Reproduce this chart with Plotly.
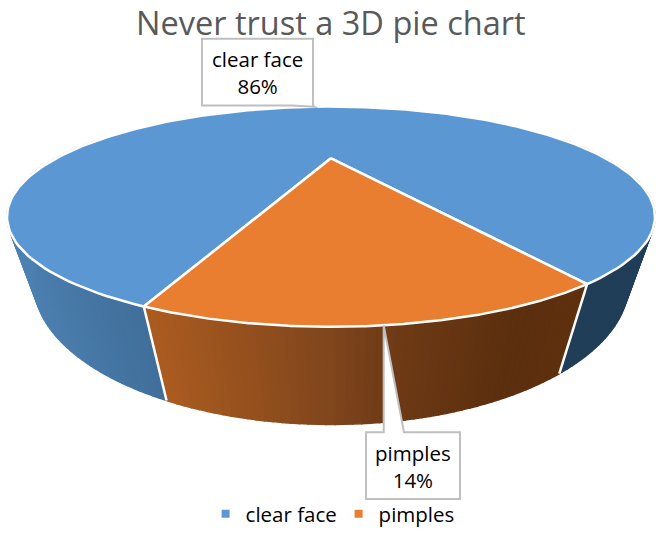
import numpy as np
import plotly.graph_objects as go

labels = ['clear face', 'pimples']
values = [86, 14]
top_colors = ['#5B98D3', '#E97D30']
title_text = 'Never trust a 3D pie chart'

# side shading as (screen x, colour)
side_stops = [
    [(0, (78, 130, 178)), (170, (62, 107, 150)), (540, (33, 62, 88)), (659, (33, 62, 88))],
    [(145, (172, 92, 33)), (330, (128, 70, 28)), (385, (113, 60, 23)), (520, (92, 47, 14)), (590, (95, 49, 15))],
]

# where the tilted disc sits in the page, in pixels
cx, cy, rx, ry = 331, 217.5, 324, 110.5
tilt = 0.53  # pushes the pie centre up the ellipse
vanish = (335, 1100)
start_angle = 110.0


def rim(deg):
    # point of the circle after the perspective tilt
    t = np.radians(deg)
    u, v = np.cos(t), np.sin(t)
    w = 1 - tilt * v
    return cx + rx * u * np.sqrt(1 - tilt ** 2) / w, cy + ry * (v - tilt) / w


def drop(x, y):
    # the wall gets taller towards the viewer
    depth = 0.111 + 0.00039 * (y - 287)
    return x + depth * (vanish[0] - x), y + depth * (vanish[1] - y)


def side_color(i, x):
    xs = [s[0] for s in side_stops[i]]
    rgb = [np.interp(x, xs, [s[1][c] for s in side_stops[i]]) for c in range(3)]
    return 'rgb(%d,%d,%d)' % tuple(rgb)


# slice limits come from the values
total = sum(values)
spans = []
a = start_angle
for val in values:
    spans.append((a, a + val / total * 360))
    a = spans[-1][1]

data = []

# side wall, thin strips so the shading looks like a gradient
for i, (a0, a1) in enumerate(spans):
    steps = np.arange(a0, a1 + 1, 1.0)
    steps[-1] = a1
    for s0, s1 in zip(steps[:-1], steps[1:]):
        if np.sin(np.radians((s0 + s1) / 2)) < -0.25:
            continue
        x0, y0 = rim(s0)
        x1, y1 = rim(s1)
        bx0, by0 = drop(x0, y0)
        bx1, by1 = drop(x1, y1)
        col = side_color(i, (x0 + x1) / 2)
        data.append(go.Scatter(x=[x0, x1, bx1, bx0, x0], y=[y0, y1, by1, by0, y0], mode='lines',
                               fill='toself', fillcolor=col, line=dict(color=col, width=1.5),
                               hoverinfo='skip', showlegend=False))

# white seams on the wall where the slices meet
for a0, a1 in spans:
    x0, y0 = rim(a0)
    bx0, by0 = drop(x0, y0)
    data.append(go.Scatter(x=[x0, bx0], y=[y0, by0], mode='lines', line=dict(color='white', width=2.5),
                           hoverinfo='skip', showlegend=False))

# top faces
center_x, center_y = rim(90)[0], cy - ry * tilt
for i, (a0, a1) in enumerate(spans):
    xs, ys = rim(np.linspace(a0, a1, 240))
    data.append(go.Scatter(x=[center_x, *xs, center_x], y=[center_y, *ys, center_y], mode='lines',
                           fill='toself', fillcolor=top_colors[i], line=dict(color='white', width=2.5),
                           name=labels[i], hoverinfo='name', showlegend=False))

# legend entries
for i in range(len(labels)):
    data.append(go.Scatter(x=[None], y=[None], mode='markers', name=labels[i],
                           marker=dict(symbol='square', size=8, color=top_colors[i])))

# callouts, the tips land on the middle of each slice
tip0 = rim(sum(spans[0]) / 2)
tip1 = rim(sum(spans[1]) / 2)
grey = '#BFBFBF'
path0 = f'M202,39 L313,39 L313,106 L{tip0[0]:.1f},{tip0[1]:.1f} L292,106 L202,106 Z'
path1 = f'M366,434 L{tip1[0]:.1f},434 L{tip1[0]:.1f},{tip1[1]:.1f} L404,434 L460,434 L460,501 L366,501 Z'
shapes = [dict(type='path', path=p, xref='x', yref='y', fillcolor='white', line=dict(color=grey, width=2),
               layer='above') for p in (path0, path1)]

font_name = 'Open Sans'
annotations = [
    dict(x=257, y=73, xref='x', yref='y', text=f'{labels[0]}<br>{values[0]}%', showarrow=False,
         font=dict(family=font_name, size=20.5, color='black')),
    dict(x=413, y=468, xref='x', yref='y', text=f'{labels[1]}<br>{values[1]}%', showarrow=False,
         font=dict(family=font_name, size=20.5, color='black')),
]

layout = go.Layout(
    width=659, height=534, margin=dict(l=0, r=0, t=0, b=0),
    paper_bgcolor='white', plot_bgcolor='white',
    title=dict(text=title_text, x=0.502, xanchor='center', y=0.955, yanchor='middle',
               font=dict(family=font_name, size=32.5, color='#595959')),
    xaxis=dict(range=[0, 659], visible=False),
    yaxis=dict(range=[534, 0], visible=False),
    shapes=shapes, annotations=annotations,
    legend=dict(orientation='h', x=0.312, xanchor='left', y=0.034, yanchor='middle',
                font=dict(family=font_name, size=20.5, color='black'), itemwidth=30,
                entrywidth=88, bgcolor='rgba(0,0,0,0)'),
    hovermode='closest',
)

fig = go.Figure(data=data, layout=layout)
fig.write_html("out.html", config=dict(displayModeBar=False), post_script="document.body.style.margin='0';")
